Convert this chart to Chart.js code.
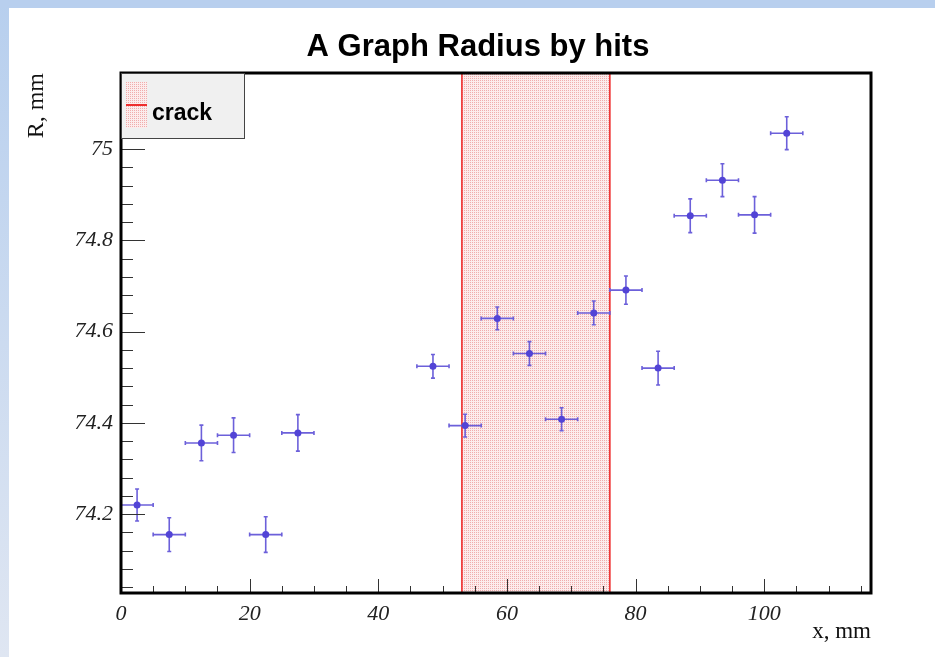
<!DOCTYPE html>
<html>
<head>
<meta charset="utf-8">
<title>A Graph Radius by hits</title>
<script src="https://cdn.jsdelivr.net/npm/chart.js@4.4.1/dist/chart.umd.min.js"></script>
<style>
  html, body { margin: 0; padding: 0; background: #fff; }
  #wrap { width: 935px; height: 657px; }
</style>
</head>
<body>
<div id="wrap"><canvas id="chart" width="935" height="657"></canvas></div>
<script>
// hit positions along x (mm) and radius (mm), with errors
const hitX      = [2.5, 7.5, 12.5, 17.5, 22.5, 27.5, 48.5, 53.5, 58.5, 63.5, 68.5, 73.5, 78.5, 83.5, 88.5, 93.5, 98.5, 103.5];
const hitXErr   = [2.5, 2.5, 2.5, 2.5, 2.5, 2.5, 2.5, 2.5, 2.5, 2.5, 2.5, 2.5, 2.5, 2.5, 2.5, 2.5, 2.5, 2.5];
const radius    = [74.220, 74.155, 74.356, 74.373, 74.155, 74.378, 74.524, 74.394, 74.629, 74.552, 74.408, 74.641, 74.691, 74.520, 74.854, 74.932, 74.856, 75.035];
const radiusErr = [0.035, 0.037, 0.039, 0.038, 0.039, 0.040, 0.026, 0.025, 0.025, 0.026, 0.025, 0.026, 0.031, 0.037, 0.037, 0.036, 0.040, 0.036];

// crack region (x, mm)
const crackRange = [53, 76];

// axes
const xRange = [0, 116.6];
const yRange = [74.027, 75.167];
const xTicks = [0, 20, 40, 60, 80, 100];
const xTickLabels = ['0', '20', '40', '60', '80', '100'];
const yTicks = [74.2, 74.4, 74.6, 74.8, 75];
const yTickLabels = ['74.2', '74.4', '74.6', '74.8', '75'];

const markerColor = 'rgb(82,68,214)';
const errColor = 'rgb(108,96,218)';
const crackColor = 'rgb(238,45,45)';

// dotted pink fill like ROOT's fill style
function crackPattern(ctx) {
  const c = document.createElement('canvas');
  c.width = 2; c.height = 2;
  const p = c.getContext('2d');
  p.fillStyle = 'rgb(252,236,236)';
  p.fillRect(0, 0, 2, 2);
  p.fillStyle = 'rgb(240,172,172)';
  p.fillRect(0, 0, 1, 1);
  return ctx.createPattern(c, 'repeat');
}

const rootStyle = {
  id: 'rootStyle',
  beforeDraw(chart) {
    const ctx = chart.ctx;
    ctx.save();
    ctx.fillStyle = '#fff';
    ctx.fillRect(0, 0, chart.width, chart.height);
    const g = ctx.createLinearGradient(0, 0, 0, chart.height);
    g.addColorStop(0, '#b7cfee');
    g.addColorStop(1, '#dfe6f2');
    ctx.fillStyle = g;
    ctx.fillRect(0, 0, 9, chart.height);
    ctx.fillStyle = '#b8cfee';
    ctx.fillRect(0, 0, chart.width, 8);
    ctx.restore();
  },
  beforeDatasetsDraw(chart) {
    const ctx = chart.ctx;
    const a = chart.chartArea;
    const x = chart.scales.x, y = chart.scales.y;
    ctx.save();
    ctx.beginPath();
    ctx.rect(a.left, a.top, a.right - a.left, a.bottom - a.top);
    ctx.clip();

    // crack band
    const x0 = x.getPixelForValue(crackRange[0]);
    const x1 = x.getPixelForValue(crackRange[1]);
    ctx.fillStyle = crackPattern(ctx);
    ctx.fillRect(x0, a.top, x1 - x0, a.bottom - a.top);
    ctx.strokeStyle = crackColor;
    ctx.lineWidth = 1.6;
    ctx.beginPath();
    ctx.moveTo(x0, a.top); ctx.lineTo(x0, a.bottom);
    ctx.moveTo(x1, a.top); ctx.lineTo(x1, a.bottom);
    ctx.stroke();

    // error bars
    ctx.strokeStyle = errColor;
    ctx.lineWidth = 1.6;
    ctx.beginPath();
    hitX.forEach((v, i) => {
      const px = x.getPixelForValue(v);
      const py = y.getPixelForValue(radius[i]);
      const xl = x.getPixelForValue(v - hitXErr[i]);
      const xr = x.getPixelForValue(v + hitXErr[i]);
      const yt = y.getPixelForValue(radius[i] + radiusErr[i]);
      const yb = y.getPixelForValue(radius[i] - radiusErr[i]);
      ctx.moveTo(xl, py); ctx.lineTo(xr, py);
      ctx.moveTo(px, yt); ctx.lineTo(px, yb);
      ctx.moveTo(xl, py - 2); ctx.lineTo(xl, py + 2);
      ctx.moveTo(xr, py - 2); ctx.lineTo(xr, py + 2);
      ctx.moveTo(px - 2, yt); ctx.lineTo(px + 2, yt);
      ctx.moveTo(px - 2, yb); ctx.lineTo(px + 2, yb);
    });
    ctx.stroke();
    ctx.restore();
  },
  afterDatasetsDraw(chart) {
    const ctx = chart.ctx;
    const a = chart.chartArea;
    const x = chart.scales.x, y = chart.scales.y;
    ctx.save();

    // inside ticks (ROOT style)
    ctx.strokeStyle = '#333';
    ctx.lineWidth = 1;
    ctx.beginPath();
    for (let k = Math.ceil(yRange[0] / 0.04); k * 0.04 <= yRange[1]; k++) {
      const py = Math.round(y.getPixelForValue(k * 0.04)) + 0.5;
      const len = (k % 5 === 0) ? 24 : 12;
      ctx.moveTo(a.left, py); ctx.lineTo(a.left + len, py);
    }
    for (let k = 1; k * 5 <= xRange[1]; k++) {
      const px = Math.round(x.getPixelForValue(k * 5)) + 0.5;
      const len = (k % 4 === 0) ? 14 : 7;
      ctx.moveTo(px, a.bottom); ctx.lineTo(px, a.bottom - len);
    }
    ctx.stroke();

    // frame
    ctx.strokeStyle = '#000';
    ctx.lineWidth = 3;
    ctx.strokeRect(a.left, a.top, a.right - a.left, a.bottom - a.top);

    // legend
    const lx = a.left, ly = a.top, lw = 123, lh = 65;
    ctx.fillStyle = '#f0f0f0';
    ctx.fillRect(lx, ly, lw, lh);
    ctx.strokeStyle = '#444';
    ctx.lineWidth = 1;
    ctx.strokeRect(lx + 0.5, ly + 0.5, lw, lh);
    ctx.fillStyle = crackPattern(ctx);
    ctx.fillRect(lx + 5, ly + 9, 21, 46);
    ctx.strokeStyle = crackColor;
    ctx.lineWidth = 2;
    ctx.beginPath();
    ctx.moveTo(lx + 5, ly + 32); ctx.lineTo(lx + 26, ly + 32);
    ctx.stroke();
    ctx.fillStyle = '#000';
    ctx.font = 'bold 23px "Liberation Sans", Arial, sans-serif';
    ctx.textBaseline = 'alphabetic';
    ctx.textAlign = 'left';
    ctx.fillText('crack', lx + 31, ly + 47);

    // title
    ctx.font = 'bold 31px "Liberation Sans", Arial, sans-serif';
    ctx.textAlign = 'center';
    ctx.fillText('A Graph Radius by hits', 478, 56);
    ctx.restore();
  }
};

const chart = new Chart(document.getElementById('chart'), {
  type: 'scatter',
  data: {
    datasets: [{
      label: 'hits',
      data: hitX.map((v, i) => ({ x: v, y: radius[i] })),
      backgroundColor: markerColor,
      borderColor: markerColor,
      pointRadius: 3.5,
      pointBorderWidth: 0
    }]
  },
  options: {
    responsive: false,
    animation: false,
    devicePixelRatio: 1,
    layout: { padding: { left: 0, top: 73, right: 64, bottom: 0 } },
    plugins: {
      legend: { display: false },
      title: { display: false },
      tooltip: { enabled: false }
    },
    scales: {
      x: {
        type: 'linear',
        min: xRange[0],
        max: xRange[1],
        grid: { display: false, drawTicks: false },
        border: { display: false },
        afterFit: s => { s.height = 64; },
        afterBuildTicks: s => { s.ticks = xTicks.map(v => ({ value: v })); },
        ticks: {
          autoSkip: false,
          maxRotation: 0,
          padding: 8,
          color: '#222',
          font: { family: '"Liberation Serif", "Times New Roman", serif', size: 22, style: 'italic' },
          callback: (v, i) => xTickLabels[i]
        },
        title: {
          display: true,
          text: 'x, mm',
          align: 'end',
          color: '#111',
          padding: { top: 0, bottom: 11 },
          font: { family: '"Liberation Serif", "Times New Roman", serif', size: 23 }
        }
      },
      y: {
        type: 'linear',
        min: yRange[0],
        max: yRange[1],
        grid: { display: false, drawTicks: false },
        border: { display: false },
        afterFit: s => { s.width = 121; },
        afterBuildTicks: s => { s.ticks = yTicks.map(v => ({ value: v })); },
        ticks: {
          autoSkip: false,
          padding: 8,
          color: '#222',
          font: { family: '"Liberation Serif", "Times New Roman", serif', size: 22, style: 'italic' },
          callback: (v, i) => yTickLabels[i]
        },
        title: {
          display: true,
          text: 'R, mm',
          align: 'end',
          color: '#111',
          padding: { top: 22, bottom: 0 },
          font: { family: '"Liberation Serif", "Times New Roman", serif', size: 24 }
        }
      }
    }
  },
  plugins: [rootStyle]
});
</script>
</body>
</html>
